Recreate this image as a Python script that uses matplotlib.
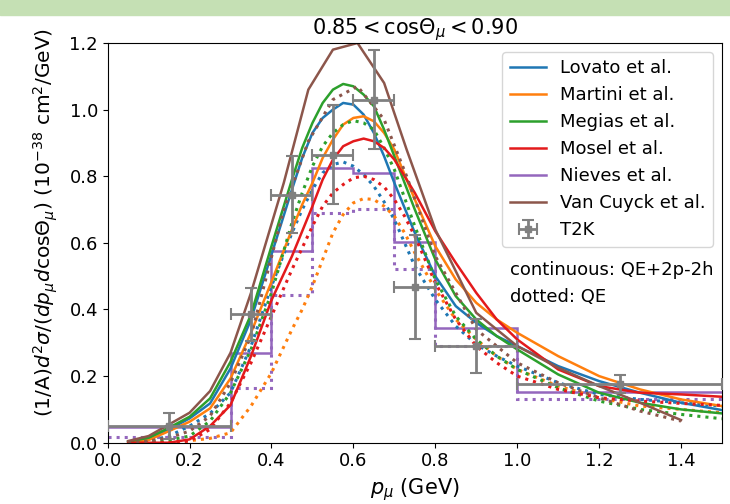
import numpy as np
import matplotlib
matplotlib.use('Agg')
import matplotlib.pyplot as plt
from matplotlib.patches import Rectangle

# momentum grid (GeV) for the smooth model curves
p = [0.05, 0.10, 0.15, 0.20, 0.25, 0.30, 0.35, 0.40, 0.45, 0.475, 0.50, 0.525, 0.55, 0.575,
     0.60, 0.625, 0.65, 0.675, 0.70, 0.725, 0.75, 0.80, 0.85, 0.90, 0.95, 1.00, 1.10, 1.20,
     1.30, 1.40, 1.50]

# QE+2p-2h (solid)
lovato = [0.002, 0.012, 0.04, 0.073, 0.118, 0.223, 0.37, 0.565, 0.76, 0.855, 0.93, 0.975,
          1.00, 1.02, 1.015, 0.985, 0.93, 0.86, 0.78, 0.705, 0.63, 0.50, 0.41, 0.36, 0.32,
          0.29, 0.23, 0.185, 0.15, 0.12, 0.098]
martini = [0.0, 0.008, 0.035, 0.063, 0.103, 0.193, 0.33, 0.483, 0.64, 0.715, 0.78, 0.855,
           0.91, 0.955, 0.975, 0.98, 0.965, 0.93, 0.88, 0.805, 0.73, 0.59, 0.49, 0.42, 0.37,
           0.33, 0.26, 0.20, 0.16, 0.13, 0.11]
megias = [0.003, 0.015, 0.045, 0.078, 0.133, 0.243, 0.385, 0.59, 0.79, 0.885, 0.96, 1.02,
          1.06, 1.077, 1.07, 1.045, 1.01, 0.94, 0.86, 0.78, 0.70, 0.55, 0.44, 0.37, 0.32,
          0.28, 0.205, 0.15, 0.12, 0.10, 0.088]
mosel = [0.0, 0.0, 0.0, 0.01, 0.05, 0.113, 0.26, 0.428, 0.56, 0.635, 0.71, 0.79, 0.85, 0.89,
         0.905, 0.913, 0.905, 0.885, 0.85, 0.80, 0.75, 0.635, 0.54, 0.45, 0.37, 0.31, 0.22,
         0.17, 0.15, 0.145, 0.138]

# QE only (dotted)
lovato_qe = [0.0, 0.005, 0.02, 0.05, 0.088, 0.15, 0.29, 0.47, 0.63, 0.70, 0.76, 0.81, 0.835,
             0.843, 0.83, 0.805, 0.77, 0.723, 0.67, 0.60, 0.53, 0.43, 0.35, 0.295, 0.26, 0.23,
             0.18, 0.145, 0.13, 0.12, 0.11]
martini_qe = [0.0, 0.0, 0.002, 0.006, 0.013, 0.03, 0.11, 0.21, 0.34, 0.40, 0.47, 0.55, 0.63,
              0.685, 0.72, 0.733, 0.73, 0.71, 0.68, 0.63, 0.57, 0.46, 0.37, 0.31, 0.26, 0.22,
              0.17, 0.135, 0.11, 0.10, 0.09]
megias_qe = [0.0, 0.003, 0.008, 0.02, 0.065, 0.15, 0.28, 0.45, 0.66, 0.75, 0.83, 0.89, 0.93,
             0.955, 0.967, 0.96, 0.94, 0.885, 0.82, 0.735, 0.65, 0.49, 0.38, 0.31, 0.26, 0.22,
             0.165, 0.125, 0.10, 0.085, 0.072]
mosel_qe = [0.0, 0.0, 0.0, 0.005, 0.04, 0.12, 0.24, 0.38, 0.52, 0.585, 0.65, 0.71, 0.75,
            0.775, 0.795, 0.80, 0.79, 0.768, 0.73, 0.68, 0.62, 0.48, 0.37, 0.29, 0.24, 0.20,
            0.16, 0.135, 0.125, 0.118, 0.112]

# Van Cuyck is given on a coarser grid
p_vc = [0.05, 0.10, 0.15, 0.20, 0.25, 0.30, 0.35, 0.43, 0.49, 0.55, 0.61, 0.675, 0.73,
        0.80, 0.90, 1.00, 1.10, 1.20, 1.30, 1.40]
vancuyck = [0.005, 0.02, 0.055, 0.09, 0.155, 0.27, 0.45, 0.78, 1.06, 1.18, 1.20, 1.08, 0.88,
            0.64, 0.39, 0.29, 0.225, 0.17, 0.12, 0.068]
vancuyck_qe = [0.0, 0.005, 0.015, 0.035, 0.08, 0.18, 0.32, 0.70, 0.905, 1.03, 1.07, 0.97, 0.80,
               0.56, 0.34, 0.24, 0.18, 0.135, 0.095, 0.065]

# Nieves histogram
edges = [0.0, 0.3, 0.4, 0.5, 0.6, 0.7, 0.8, 1.0, 1.5]
nieves = [0.048, 0.268, 0.576, 0.825, 0.81, 0.602, 0.345, 0.151]
nieves_qe = [0.018, 0.163, 0.443, 0.69, 0.703, 0.523, 0.291, 0.13]

# T2K data
t2k_p = [0.15, 0.35, 0.45, 0.55, 0.65, 0.75, 0.90, 1.25]
t2k_perr = [0.15, 0.05, 0.05, 0.05, 0.05, 0.05, 0.10, 0.25]
t2k_xs = [0.05, 0.385, 0.745, 0.865, 1.03, 0.468, 0.29, 0.176]
t2k_err = [0.04, 0.08, 0.115, 0.148, 0.148, 0.157, 0.08, 0.027]

labels = ['Lovato et al.', 'Martini et al.', 'Megias et al.', 'Mosel et al.',
          'Nieves et al.', 'Van Cuyck et al.']
colors = ['#1f77b4', '#ff7f0e', '#2ca02c', '#e31a1c', '#9467bd', '#8c564b']

fig = plt.figure(figsize=(7.3, 5.04), dpi=100)
ax = fig.add_axes([0.1475, 0.1216, 0.8415, 0.7931])

# slide banner at the very top
fig.add_artist(Rectangle((0, 1 - 15 / 504), 1, 15 / 504, transform=fig.transFigure,
                         color='#c5e0b4', zorder=0))

lw = 1.8
handles = []
solids = [lovato, martini, megias, mosel]
dots = [lovato_qe, martini_qe, megias_qe, mosel_qe]
for i in range(4):
    h, = ax.plot(p, solids[i], color=colors[i], lw=lw)
    handles.append(h)
    ax.plot(p, dots[i], color=colors[i], lw=2.2, ls=':')

h = ax.stairs(nieves, edges, color=colors[4], lw=lw, baseline=None)
handles.append(h)
ax.stairs(nieves_qe, edges, color=colors[4], lw=2.2, ls=':', baseline=None)

h, = ax.plot(p_vc, vancuyck, color=colors[5], lw=lw)
handles.append(h)
ax.plot(p_vc, vancuyck_qe, color=colors[5], lw=2.2, ls=':')

eb = ax.errorbar(t2k_p, t2k_xs, xerr=t2k_perr, yerr=t2k_err, fmt='s', color='gray',
                 ms=5, elinewidth=2, capsize=4, capthick=1.5, zorder=5)
handles.append(eb)

ax.legend(handles, labels + ['T2K'], loc='upper right', fontsize=13)

ax.text(0.982, 0.518, 'continuous: QE+2p-2h', fontsize=13, va='center')
ax.text(0.982, 0.438, 'dotted: QE', fontsize=13, va='center')

ax.set_xlim(0, 1.5)
ax.set_ylim(0, 1.2)
ax.set_xticks([0.0, 0.2, 0.4, 0.6, 0.8, 1.0, 1.2, 1.4])
ax.set_yticks([0.0, 0.2, 0.4, 0.6, 0.8, 1.0, 1.2])
ax.tick_params(labelsize=13)
ax.set_title(r'$0.85 < \mathrm{cos}\Theta_\mu < 0.90$', fontsize=15)
ax.set_xlabel(r'$p_\mu$ (GeV)', fontsize=15)
ax.set_ylabel(r'(1/A)$d^2\sigma/(dp_\mu d\mathrm{cos}\Theta_\mu)$ (10$^{-38}$ cm$^2$/GeV)',
              fontsize=14.5)
ax.yaxis.set_label_coords(-0.078, 0.55)

fig.savefig('out.png', dpi=100)
